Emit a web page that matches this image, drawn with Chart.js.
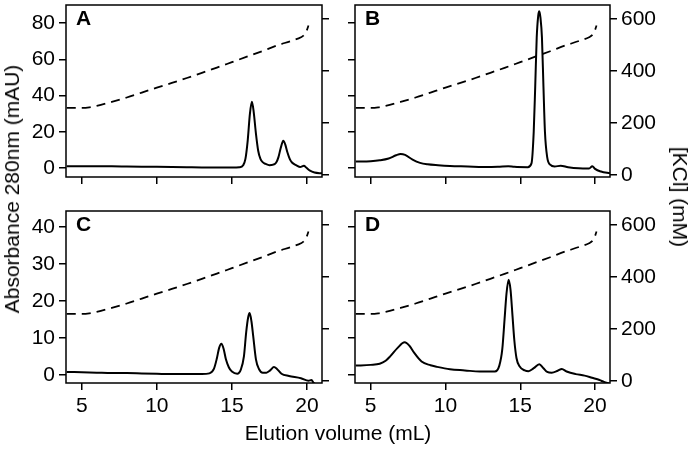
<!DOCTYPE html>
<html>
<head>
<meta charset="utf-8">
<script src="https://cdn.jsdelivr.net/npm/chart.js@4.4.1/dist/chart.umd.min.js"></script>
<style>
  body { margin: 0; background: #fff; }
  #wrap { position: relative; width: 692px; height: 450px; overflow: hidden; font-family: "Liberation Sans", Arial, sans-serif; color: #000; }
  canvas { position: absolute; }
  .lab { position: absolute; font-size: 21px; white-space: nowrap; transform-origin: center center; }
</style>
</head>
<body>
<div id="wrap">
  <canvas id="cA" width="340" height="200" style="left:0;top:0"></canvas>
  <canvas id="cB" width="352" height="200" style="left:340px;top:0"></canvas>
  <canvas id="cC" width="340" height="244" style="left:0;top:206px"></canvas>
  <canvas id="cD" width="352" height="244" style="left:340px;top:206px"></canvas>
  <div class="lab" style="left:12px;top:189px;transform:translate(-50%,-50%) rotate(-90deg)">Absorbance 280nm (mAU)</div>
  <div class="lab" style="left:680px;top:197px;transform:translate(-50%,-50%) rotate(90deg)">[KCl] (mM)</div>
  <div class="lab" style="left:338px;top:433px;transform:translate(-50%,-50%)">Elution volume (mL)</div>
</div>
<script>
// gradient de KCl (mM), mesma para os 4 paineis
const volKCl = [4.0, 5.0, 5.5, 6.0, 7.0, 8.0, 9.0, 10.0, 11.0, 12.0, 13.0, 14.0, 15.0, 16.0, 17.0, 18.0, 19.0, 19.6, 19.8, 20.0, 20.1];
const kcl = [258, 258, 260, 266, 281, 298, 317, 336, 354, 373, 393, 413, 434, 455, 476, 498, 517, 530, 538, 558, 575];

// absorbancia 280nm (mAU)
const volA = [4.0, 5, 6, 7, 8, 9, 10, 11, 12, 13, 14, 15, 15.5, 15.75, 15.9, 16.05, 16.2, 16.33, 16.45, 16.6, 16.75, 16.9, 17.05, 17.25, 17.5, 17.75, 17.95, 18.1, 18.25, 18.42, 18.55, 18.7, 18.85, 19.0, 19.3, 19.55, 19.8, 19.95, 20.2, 20.5, 21.0];
const absA = [1.0, 1.0, 0.9, 0.9, 0.8, 0.7, 0.6, 0.5, 0.4, 0.3, 0.3, 0.2, 0.4, 1.5, 5, 15, 30, 36.5, 31, 19, 9.5, 5, 3.2, 2.2, 1.5, 1.8, 3, 6, 11, 15, 13, 8.5, 5, 3, 1.4, 0.5, 1.2, 0.2, -1.5, -2.5, -3];

const volB = [4.0, 5, 5.6, 6.2, 6.7, 7.0, 7.3, 7.8, 8.3, 8.8, 9.5, 10.3, 11.5, 12.5, 13.5, 14.2, 14.6, 15.5, 15.75, 15.9, 16.0, 16.1, 16.2, 16.27, 16.35, 16.45, 16.55, 16.65, 16.8, 17.0, 17.3, 17.7, 18.2, 18.9, 19.6, 19.82, 20.0, 20.4, 21.0];
const absB = [3.5, 3.7, 4.2, 5.2, 7, 7.7, 7.2, 4.6, 2.8, 2.0, 1.5, 1.1, 0.8, 0.5, 0.6, 1.0, 0.6, 0.4, 2.5, 20, 45, 72, 84, 86.5, 83, 72, 45, 20, 6, 1.8, 0.8, 1.2, 0.4, -0.2, -0.3, 1.0, -0.5, -2, -3];

const volC = [4.0, 5, 6, 7, 8, 9, 10, 11, 12, 13, 13.5, 13.8, 14.0, 14.15, 14.3, 14.45, 14.6, 14.8, 15.0, 15.35, 15.6, 15.8, 15.95, 16.08, 16.18, 16.3, 16.42, 16.6, 16.8, 17.05, 17.3, 17.55, 17.8, 18.0, 18.3, 18.8, 19.6, 20.1, 20.3, 20.45, 20.6];
const absC = [0.8, 0.7, 0.6, 0.5, 0.5, 0.4, 0.3, 0.2, 0.2, 0.2, 0.4, 1.6, 4.5, 7.3, 8.4, 7, 4.2, 2, 0.9, 0.3, 1.5, 5, 11.5, 15.5, 16.7, 14.5, 10.4, 4.2, 1.6, 0.6, 0.6, 1.2, 2.1, 1.6, 0.3, -0.3, -0.9, -1.6, -1.4, -2.2, -2.6];

const volD = [4.0, 5, 5.6, 6.0, 6.3, 6.8, 7.27, 7.6, 7.9, 8.4, 9.0, 9.4, 10.3, 11.3, 12.3, 13.3, 13.6, 13.8, 13.95, 14.08, 14.22, 14.35, 14.48, 14.6, 14.75, 14.95, 15.3, 15.55, 15.9, 16.27, 16.55, 16.8, 17.1, 17.5, 17.78, 18.1, 18.7, 19.3, 19.8, 20.3, 20.6, 20.93];
const absD = [2.5, 2.7, 3.0, 3.8, 5, 7.3, 8.8, 7.8, 6, 3.6, 2.6, 2.2, 1.5, 1.2, 0.9, 0.9, 2.5, 7, 15, 22, 25.7, 23, 16, 9.5, 4.5, 2.3, 1.2, 1.0, 1.8, 2.9, 1.8, 0.8, 0.6, 1.1, 1.6, 0.9, 0.2, -0.2, -0.8, -1.4, -1.9, -2.3];

const fonte = { family: '"Liberation Sans", Arial, sans-serif', size: 21 };

function pontos(xs, ys) {
    return xs.map((x, i) => ({ x: x, y: ys[i] }));
}

const caixaPlugin = {
    id: 'caixa',
    afterDraw(chart, args, opts) {
        const a = chart.chartArea;
        const ctx = chart.ctx;
        ctx.save();
        ctx.strokeStyle = '#000';
        ctx.lineWidth = 1.5;
        ctx.strokeRect(a.left, a.top, a.right - a.left, a.bottom - a.top);
        ctx.fillStyle = '#000';
        ctx.font = 'bold 21px "Liberation Sans", Arial, sans-serif';
        ctx.textBaseline = 'top';
        ctx.fillText(opts.letra, a.left + 10, a.top + 4);
        ctx.restore();
    }
};

function eixo(pos, min, max, passo, mostrar, tamanho) {
    return {
        type: 'linear',
        position: pos,
        min: min,
        max: max,
        ticks: { stepSize: passo, includeBounds: false, display: mostrar, font: fonte, color: '#000', padding: 4 },
        grid: { drawOnChartArea: false, drawTicks: true, tickLength: 7, color: '#000', lineWidth: 1.5 },
        border: { display: false },
        afterFit: function(s) {
            if (pos === 'bottom') {
                s.height = tamanho;
            } else {
                s.width = tamanho;
            }
            s.paddingTop = 0; s.paddingBottom = 0; s.paddingLeft = 0; s.paddingRight = 0;
        }
    };
}

function construirPainel(id, letra, vol, abs, absMin, absMax, absPasso, cfg) {
    const ctx = document.getElementById(id).getContext('2d');
    return new Chart(ctx, {
        type: 'line',
        data: {
            datasets: [{
                data: pontos(vol, abs),
                yAxisID: 'y',
                borderColor: '#000',
                borderWidth: 2,
                pointRadius: 0,
                cubicInterpolationMode: 'monotone'
            }, {
                data: pontos(volKCl, kcl),
                yAxisID: 'y1',
                borderColor: '#000',
                borderWidth: 1.8,
                borderDash: [9, 6],
                pointRadius: 0,
                cubicInterpolationMode: 'monotone'
            }]
        },
        options: {
            responsive: false,
            animation: false,
            devicePixelRatio: 1,
            layout: { padding: { top: 5, left: 0, right: 0, bottom: 0 } },
            plugins: { legend: { display: false }, tooltip: { enabled: false }, caixa: { letra: letra } },
            scales: {
                x: eixo('bottom', 3.95, 21.0, 5, cfg.baixo, cfg.hBaixo),
                y: eixo('left', absMin, absMax, absPasso, cfg.esq, cfg.wEsq),
                y1: eixo('right', -8, 654, 200, cfg.dir, cfg.wDir)
            }
        },
        plugins: [caixaPlugin]
    });
}

construirPainel('cA', 'A', volA, absA, -5, 90, 20, { baixo: false, hBaixo: 23, esq: true, wEsq: 66, dir: false, wDir: 18 });
construirPainel('cB', 'B', volB, absB, -5, 90, 20, { baixo: false, hBaixo: 23, esq: false, wEsq: 15, dir: true, wDir: 82 });
construirPainel('cC', 'C', volC, absC, -2.2, 44.3, 10, { baixo: true, hBaixo: 67, esq: true, wEsq: 66, dir: false, wDir: 18 });
construirPainel('cD', 'D', volD, absD, -2.2, 44.3, 10, { baixo: true, hBaixo: 67, esq: false, wEsq: 15, dir: true, wDir: 82 });
</script>
</body>
</html>
